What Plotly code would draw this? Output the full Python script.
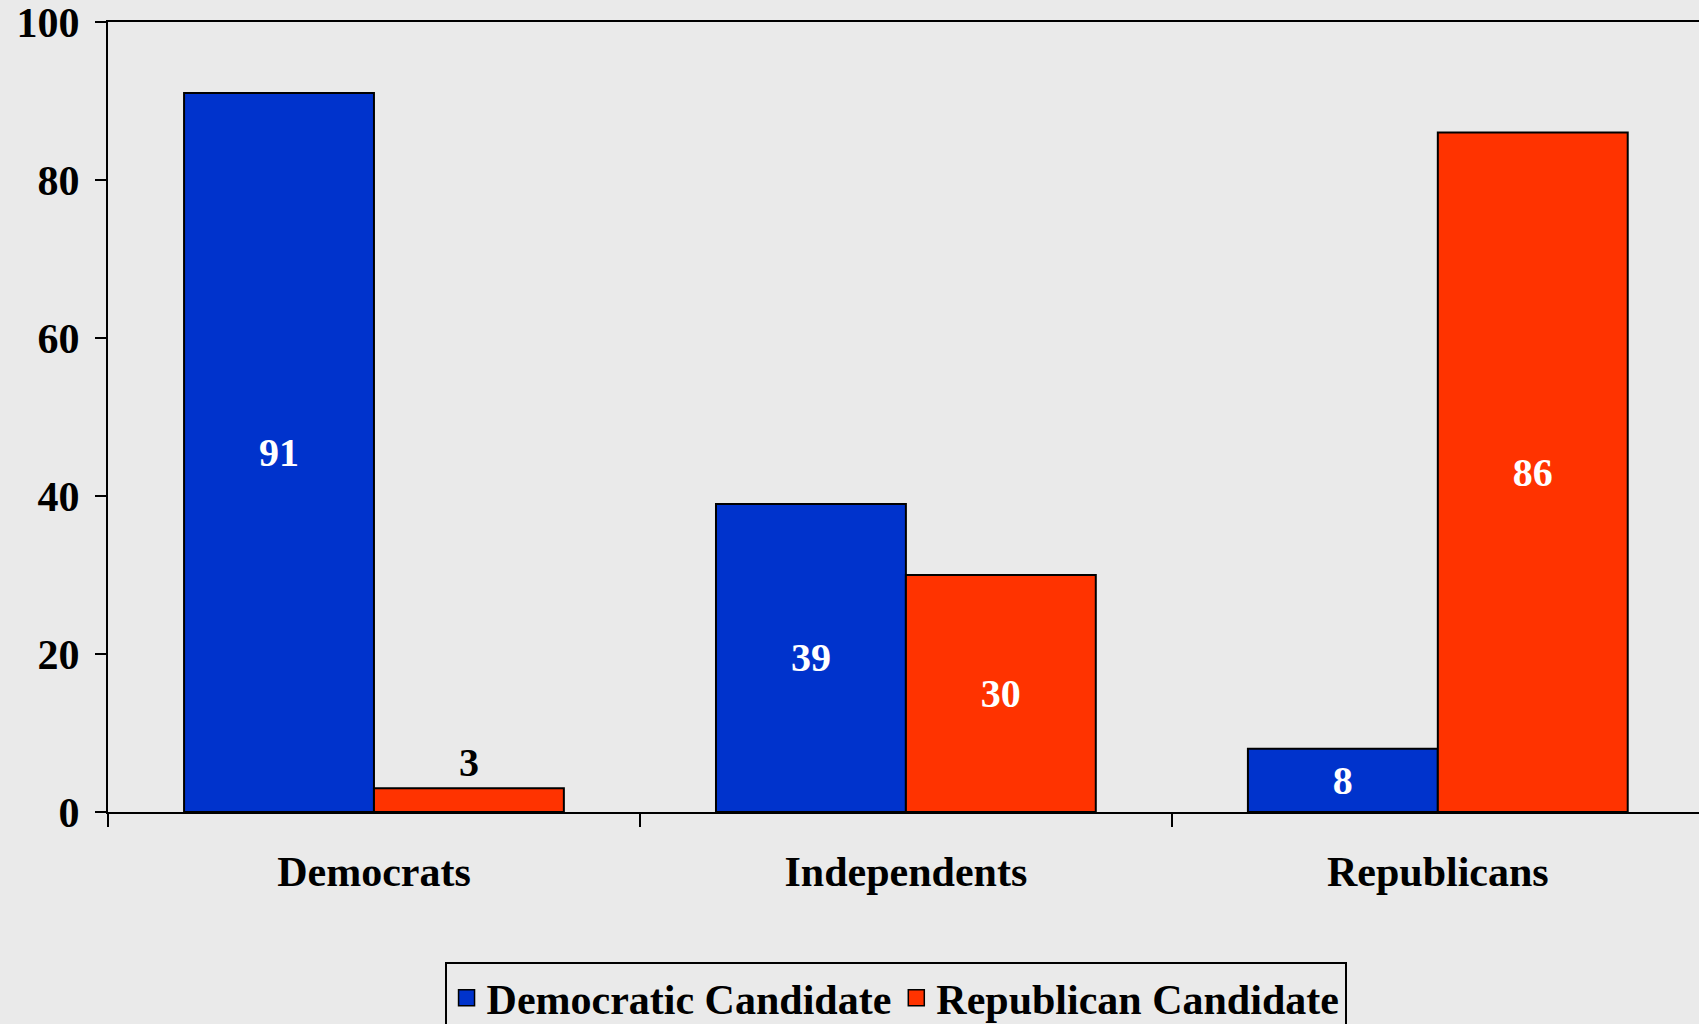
import plotly.graph_objects as go

# Vote choice by party identification (percent)
groups = ["Democrats", "Independents", "Republicans"]
dem_candidate = [91, 39, 8]
rep_candidate = [3, 30, 86]
series_names = ["Democratic Candidate", "Republican Candidate"]
y_ticks = [0, 20, 40, 60, 80, 100]

BLUE = "#0033CC"
RED = "#FF3300"
BG = "#EAEAEA"
FONT = "Liberation Serif"


def positions(values):
    # small bars carry their label above the bar, the rest inside
    return ["outside" if v < 5 else "inside" for v in values]


def label_colors(values):
    return ["black" if v < 5 else "white" for v in values]


fig = go.Figure()
for name, values, color in zip(series_names, [dem_candidate, rep_candidate], [BLUE, RED]):
    fig.add_trace(go.Bar(
        name=name, x=groups, y=values, legendgroup=name, showlegend=False,
        marker=dict(color=color, line=dict(color="black", width=2)),
        text=[str(v) for v in values],
        textposition=positions(values),
        textfont=dict(family=FONT, size=40, color=label_colors(values), weight="bold"),
        insidetextanchor="middle", cliponaxis=False,
    ))

# legend keys: larger square swatches than the default bar key
for name, color in zip(series_names, [BLUE, RED]):
    fig.add_trace(go.Scatter(
        name=name, x=[None], y=[None], mode="markers", legendgroup=name,
        marker=dict(symbol="square", size=16, color=color, line=dict(color="black", width=1.5)),
    ))

fig.update_layout(
    width=1699, height=1024,
    margin=dict(l=108, r=0, t=22, b=212),
    paper_bgcolor=BG, plot_bgcolor=BG,
    barmode="group", bargap=0.286, bargroupgap=0,
    font=dict(family=FONT, size=42, color="black", weight="bold"),
    uniformtext=dict(minsize=10, mode="show"),
    showlegend=True,
    legend=dict(
        orientation="h", x=0.495, xanchor="center",
        yref="container", y=(1024 - 962) / 1024, yanchor="top",
        bgcolor=BG, bordercolor="black", borderwidth=2,
        font=dict(family=FONT, size=42, color="black", weight="bold"),
        itemsizing="trace", traceorder="normal", itemwidth=30,
    ),
)
fig.update_xaxes(
    type="category", range=[-0.5, 2.491],
    showline=True, linecolor="black", linewidth=2, mirror=True,
    ticks="outside", tickson="boundaries", ticklen=13, tickwidth=2, tickcolor="black",
    showgrid=False, zeroline=False,
    tickfont=dict(family=FONT, size=42, color="black", weight="bold"),
    ticklabelstandoff=22,
)
fig.update_yaxes(
    range=[0, 100], tickvals=y_ticks, ticktext=[str(t) for t in y_ticks],
    showline=True, linecolor="black", linewidth=2, mirror=False,
    ticks="outside", ticklen=11, tickwidth=2, tickcolor="black",
    showgrid=False, zeroline=False,
    tickfont=dict(family=FONT, size=42, color="black", weight="bold"),
    ticklabelstandoff=7, ticklabeloverflow="allow",
)

fig.write_html("out.html")
